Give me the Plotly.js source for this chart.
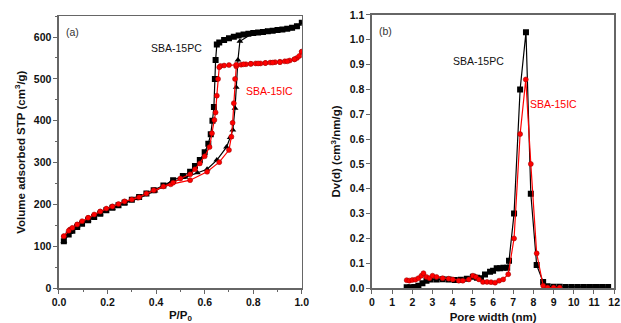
<!DOCTYPE html>
<html><head><meta charset="utf-8">
<script src="https://cdn.plot.ly/plotly-3.0.1.min.js"></script>
<style>body{margin:0;padding:0;background:#fff}#c{width:621px;height:323px}</style>
</head><body><div id="c"></div>
<script>
// Panel (a): N2 isotherms
const pcAdsP = [0.02,0.045,0.075,0.12,0.17,0.22,0.27,0.325,0.395,0.46,0.52,0.57,0.61,0.65,0.69,0.705,0.716,0.725,0.73,0.737,0.745,0.8,0.85,0.9,0.95,0.98,1.0];
const pcAdsV = [112,133,147,163,178,191,203,214,232,252,265,276,284,306,337,360,378,430,480,545,590,610,614,617,620,626,634];
const pcDesP = [1.0,0.98,0.96,0.94,0.92,0.90,0.88,0.86,0.84,0.82,0.80,0.78,0.76,0.74,0.72,0.70,0.68,0.66,0.65,0.645,0.642,0.638,0.632,0.625,0.615,0.60,0.58,0.56,0.54,0.51,0.47,0.43,0.39,0.36,0.33,0.30,0.27,0.245,0.22,0.195,0.17,0.145,0.12,0.095,0.075,0.055,0.04,0.02];
const pcDesV = [634,626,622,620,618,617,615,614,612,611,610,608,606,604,601,597,593,587,582,545,500,433,400,368,345,325,306,292,278,268,258,245,234,226,218,211,204,198,192,186,178,170,162,154,146,137,128,112];
const icAdsP = [0.02,0.045,0.075,0.12,0.17,0.22,0.27,0.325,0.395,0.46,0.54,0.61,0.66,0.70,0.71,0.715,0.72,0.725,0.73,0.75,0.77,0.79,0.81,0.83,0.85,0.87,0.89,0.91,0.93,0.95,0.97,0.98,0.99,1.0];
const icAdsV = [124,140,152,168,183,195,207,216,234,248,258,278,301,330,362,395,442,500,530,534,535,536,537,537,538,539,540,541,542,544,547,550,555,565];
const icDesP = [1.0,0.97,0.94,0.91,0.88,0.85,0.82,0.79,0.76,0.73,0.70,0.68,0.665,0.66,0.655,0.65,0.645,0.64,0.63,0.62,0.60,0.58,0.56,0.54,0.50,0.47,0.43,0.39,0.36,0.33,0.30,0.27,0.245,0.22,0.195,0.17,0.145,0.12,0.095,0.075,0.055,0.04,0.02];
const icDesV = [565,547,542,540,539,538,537,536,535,534,533,532,531,528,500,460,420,402,370,337,315,298,284,272,262,252,243,234,226,217,212,207,201,195,190,183,176,168,160,152,144,137,124];

// Panel (b): pore size distributions
const pcW = [1.72,1.9,2.1,2.3,2.5,2.7,2.9,3.2,3.5,3.8,4.1,4.4,4.7,5.0,5.2,5.4,5.6,5.85,6.0,6.18,6.35,6.51,6.7,6.79,7.04,7.34,7.63,7.87,8.16,8.48,8.7,9.0,9.3,9.6,9.9,10.2,10.5,10.8,11.1,11.4,11.7];
const pcD = [0.003,0.003,0.004,0.01,0.02,0.03,0.035,0.035,0.036,0.035,0.033,0.034,0.038,0.046,0.042,0.04,0.055,0.066,0.07,0.08,0.08,0.082,0.082,0.11,0.30,0.80,1.03,0.38,0.093,0.025,0.008,0.006,0.006,0.005,0.005,0.005,0.005,0.005,0.004,0.004,0.004];
const icW = [1.72,1.85,2.0,2.15,2.3,2.45,2.55,2.7,2.85,3.0,3.2,3.5,3.8,4.0,4.3,4.5,4.8,5.0,5.15,5.3,5.5,5.7,5.9,6.1,6.3,6.5,6.75,7.04,7.34,7.62,7.87,8.16,8.48,8.7,9.0,9.3];
const icD = [0.032,0.03,0.033,0.034,0.04,0.05,0.06,0.045,0.04,0.05,0.045,0.04,0.038,0.035,0.03,0.03,0.035,0.05,0.045,0.035,0.025,0.025,0.024,0.022,0.03,0.035,0.056,0.20,0.62,0.84,0.50,0.14,0.01,0.002,0.002,0.002];

const aTicks = [0,0.2,0.4,0.6,0.8,1.0];
const aTickText = ['0.0','0.2','0.4','0.6','0.8','1.0'];

const red = '#ff0000';
const redMk = {symbol:'circle',size:5,color:red,line:{color:'#900',width:0.5}};
const traces = [
  {x:pcAdsP,y:pcAdsV,xaxis:'x',yaxis:'y',mode:'lines+markers',line:{color:'#000',width:1.2},marker:{symbol:'triangle-up',size:6,color:'#000'}},
  {x:icAdsP,y:icAdsV,xaxis:'x',yaxis:'y',mode:'lines+markers',line:{color:red,width:1.2},marker:redMk},
  {x:pcDesP,y:pcDesV,xaxis:'x',yaxis:'y',mode:'lines+markers',line:{color:'#000',width:1.2},marker:{symbol:'square',size:6,color:'#000'}},
  {x:icDesP,y:icDesV,xaxis:'x',yaxis:'y',mode:'lines+markers',line:{color:red,width:1.2},marker:redMk},
  {x:pcW,y:pcD,xaxis:'x2',yaxis:'y2',mode:'lines+markers',line:{color:'#000',width:1.2},marker:{symbol:'square',size:6,color:'#000'}},
  {x:icW,y:icD,xaxis:'x2',yaxis:'y2',mode:'lines+markers',line:{color:red,width:1.2},marker:redMk}
];

const tf = {family:'Liberation Sans, Arial, sans-serif',size:10.5,color:'#111',weight:'bold'};
const axBase = {showline:true,linecolor:'#666',linewidth:1.5,mirror:true,ticks:'outside',ticklen:4,tickcolor:'#666',showgrid:false,zeroline:false,tickfont:tf};
const titleFont = {family:'Liberation Sans, Arial, sans-serif',size:11.5,color:'#111',weight:'bold'};
const annFont = c => ({family:'Liberation Sans, Arial, sans-serif',size:10.5,color:c});

const layout = {
  width:621,height:323,margin:{l:0,r:0,t:0,b:0},showlegend:false,
  paper_bgcolor:'#fff',plot_bgcolor:'#fff',
  xaxis:Object.assign({},axBase,{domain:[0.095,0.486],range:[0,1.0],tickvals:aTicks,ticktext:aTickText,minor:{dtick:0.1,ticklen:2,tickcolor:'#666',ticks:'outside'},anchor:'y',title:{text:'P/P<sub>0</sub>',font:titleFont,standoff:3}}),
  yaxis:Object.assign({},axBase,{domain:[0.108,0.950],range:[0,650],dtick:100,minor:{dtick:50,ticklen:2,tickcolor:'#666',ticks:'outside'},anchor:'x',title:{text:'Volume adsorbed STP (cm<sup>3</sup>/g)',font:titleFont,standoff:6}}),
  xaxis2:Object.assign({},axBase,{domain:[0.599,0.989],range:[0,12],dtick:1,anchor:'y2',title:{text:'Pore width (nm)',font:titleFont,standoff:7}}),
  yaxis2:Object.assign({},axBase,{domain:[0.108,0.954],range:[0,1.1],dtick:0.1,tickformat:'.1f',anchor:'x2',title:{text:'Dv(d) (cm<sup>3</sup>/nm/g)',font:titleFont,standoff:6}}),
  annotations:[
    {xref:'paper',yref:'paper',x:0.103,y:0.925,text:'(a)',showarrow:false,xanchor:'left',font:annFont('#333')},
    {xref:'paper',yref:'paper',x:0.607,y:0.93,text:'(b)',showarrow:false,xanchor:'left',font:annFont('#333')},
    {xref:'x',yref:'y',x:0.485,y:575,text:'SBA-15PC',showarrow:false,font:annFont('#111')},
    {xref:'x',yref:'y',x:0.865,y:470,text:'SBA-15IC',showarrow:false,font:annFont(red)},
    {xref:'x2',yref:'y2',x:5.3,y:0.915,text:'SBA-15PC',showarrow:false,font:annFont('#111')},
    {xref:'x2',yref:'y2',x:9.0,y:0.74,text:'SBA-15IC',showarrow:false,font:annFont(red)}
  ]
};
Plotly.newPlot('c',traces,layout,{displayModeBar:false,staticPlot:true});
</script></body></html>
